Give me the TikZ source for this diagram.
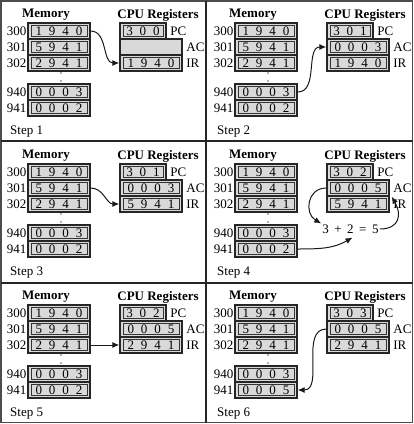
\documentclass[tikz,border=0pt]{standalone}
\usepackage{fontspec}
\setmainfont{Liberation Serif}
\usetikzlibrary{arrows.meta}
\newcommand\fs{\fontsize{13}{15}\selectfont}
\newcommand\cdig[1]{\makebox[13.5pt]{#1}}
\makeatletter
\def\digs#1{\digs@loop#1\relax}
\def\digs@loop#1{\ifx#1\relax\else\cdig{#1}\expandafter\digs@loop\fi}
\makeatother
\tikzset{
 cellbase/.style={draw=black!85, line width=1.4pt, fill=black!15, rectangle, minimum height=16pt, inner sep=0pt, font=\fs},
 cell/.style={cellbase, path picture={\draw[black!80, line width=0.6pt] ([shift={(3pt,-2.5pt)}]path picture bounding box.north west) rectangle ([shift={(-3pt,2.5pt)}]path picture bounding box.south east);}},
 w4/.style={minimum width=62pt},
 w3/.style={minimum width=46pt},
 titlet/.style={font=\fs\bfseries, inner sep=0pt},
 lbl/.style={font=\fs, inner sep=0pt},
 conn/.style={line width=1pt, black!90, -{Latex[length=7pt,width=6pt]}},
 dotm/.style={circle, fill=black!60, inner sep=0pt, minimum size=1.6pt},
 frameline/.style={line width=2pt, black!85},
}
% #1 x shift, #2 y shift, #3 step, #4 PC, #5 AC, #6 IR, #7 mem 941
\newcommand\drawpanel[7]{%
\begin{scope}[shift={(#1,#2)}]
\node[titlet] (s#3-tm) at (46,15) {Memory};
\node[titlet] (s#3-tc) at (158,15) {CPU Registers};
\node[cell,w4] (s#3-m300) at (59,31) {\digs{1940}};
\node[cell,w4] (s#3-m301) at (59,47) {\digs{5941}};
\node[cell,w4] (s#3-m302) at (59,63) {\digs{2941}};
\node[cell,w4] (s#3-m940) at (59,92) {\digs{0003}};
\node[cell,w4] (s#3-m941) at (59,108) {\digs{#7}};
\node[lbl,anchor=east] (s#3-a300) at ([xshift=-0.8pt]s#3-m300.west) {300};
\node[lbl,anchor=east] (s#3-a301) at ([xshift=-0.8pt]s#3-m301.west) {301};
\node[lbl,anchor=east] (s#3-a302) at ([xshift=-0.8pt]s#3-m302.west) {302};
\node[lbl,anchor=east] (s#3-a940) at ([xshift=-0.8pt]s#3-m940.west) {940};
\node[lbl,anchor=east] (s#3-a941) at ([xshift=-0.8pt]s#3-m941.west) {941};
\node[dotm] (s#3-d1) at (61,73) {};
\node[dotm] (s#3-d2) at (61,81) {};
\node[cell,w3] (s#3-pc) at (143,31) {\digs{#4}};
\if\relax\detokenize{#5}\relax
\node[cellbase,w4] (s#3-ac) at (151,47) {};
\else
\node[cell,w4] (s#3-ac) at (151,47) {\digs{#5}};
\fi
\node[cell,w4] (s#3-ir) at (151,63) {\digs{#6}};
\node[lbl,anchor=west] (s#3-lpc) at ([xshift=3.5pt]s#3-pc.east) {PC};
\node[lbl,anchor=west] (s#3-lac) at ([xshift=3.5pt]s#3-ac.east) {AC};
\node[lbl,anchor=west] (s#3-lir) at ([xshift=3.5pt]s#3-ir.east) {IR};
\node[lbl,anchor=west] (s#3-step) at (10,132) {Step #3};
\end{scope}}

\begin{document}
\begin{tikzpicture}[x=1pt,y=-1pt]
\useasboundingbox (0,0) rectangle (414,424);
\drawpanel{0}{0}{1}{300}{}{1940}{0002}
\drawpanel{207}{0}{2}{301}{0003}{1940}{0002}
\drawpanel{0}{141}{3}{301}{0003}{5941}{0002}
\drawpanel{207}{141}{4}{302}{0005}{5941}{0002}
\drawpanel{0}{282}{5}{302}{0005}{2941}{0002}
\drawpanel{207}{282}{6}{303}{0005}{2941}{0005}
% frame
\draw[black!70,line width=1.5pt] (1,1) rectangle (412.5,422.5);
\draw[frameline] (206,1) -- (206,422.5);
\draw[frameline] (1,141) -- (412.5,141);
\draw[frameline] (1,283) -- (412.5,283);
% connectors
\draw[conn] (s1-m300.east) to[out=0,in=180] (s1-ir.west);
\draw[conn] (s2-m940.east) to[out=0,in=180] (s2-ac.west);
\draw[conn] (s3-m301.east) to[out=0,in=180] (s3-ir.west);
\node[lbl,inner sep=1pt] (s4-sum) at (350.5,229) {3\hspace{5.5pt}+\hspace{5.5pt}2\hspace{5.5pt}=\hspace{5.5pt}5};
\draw[conn] (s4-ac.west) to[out=180,in=150,looseness=1.4] (s4-sum.north west);
\draw[conn] (s4-m941.east) to[out=0,in=-150] ([xshift=2pt,yshift=-3pt]s4-sum.south);
\draw[conn] (s4-sum.east) to[out=0,in=-60,looseness=1.5] ([xshift=2pt]s4-ac.south east);
\draw[conn] (s5-m302.east) -- (s5-ir.west);
\draw[conn] (s6-ac.west) to[out=180,in=0] (s6-m941.east);
\end{tikzpicture}
\end{document}
